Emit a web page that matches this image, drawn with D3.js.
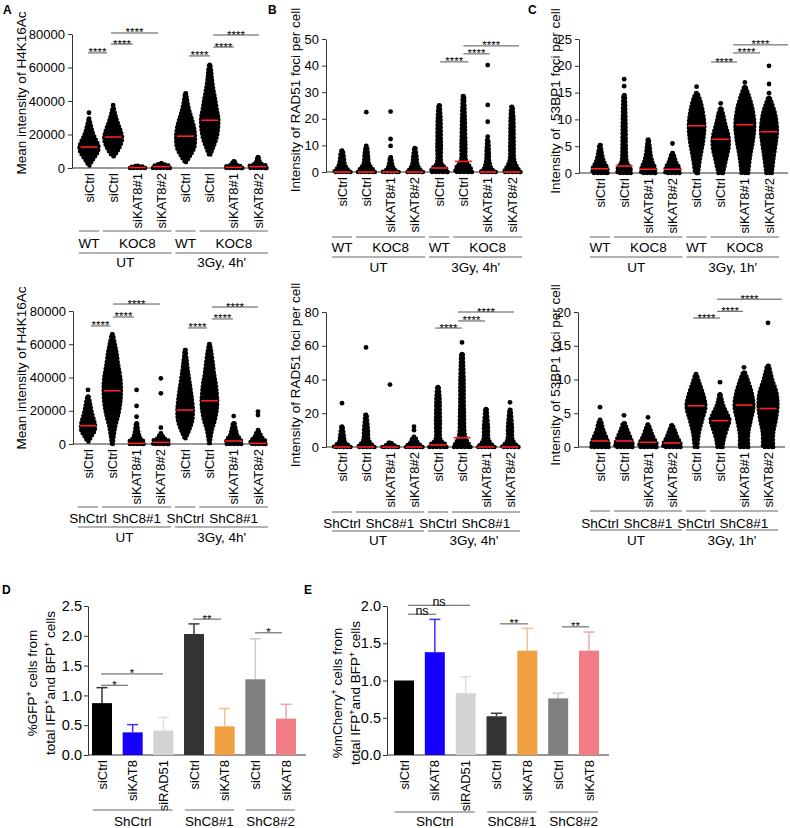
<!DOCTYPE html>
<html>
<head>
<meta charset="utf-8">
<script src="https://cdn.jsdelivr.net/npm/d3@7"></script>
<style>
  body { margin: 0; background: #fff; }
  svg text { font-family: "Liberation Sans", Arial, Helvetica, sans-serif; fill: #000; }
</style>
</head>
<body>
<svg id="fig" width="790" height="828"></svg>
<script>
// ---- data ----
// dot plots: each column is a list of [value, relative spread of the cloud]
const dotCats = ["siCtrl", "siCtrl", "siKAT8#1", "siKAT8#2", "siCtrl", "siCtrl", "siKAT8#1", "siKAT8#2"];
const topGroups = [["WT", 0, 0], ["KOC8", 1, 3], ["WT", 4, 4], ["KOC8", 5, 7]];
const bottomGroups = [["ShCtrl", 0, 0], ["ShC8#1", 1, 3], ["ShCtrl", 4, 4], ["ShC8#1", 5, 7]];
const cond4h = [["UT", 0, 3], ["3Gy, 4h'", 4, 7]];
const cond1h = [["UT", 0, 3], ["3Gy, 1h'", 4, 7]];

const aTopSpread = [
  [[1500,.05],[4000,.3],[7000,.65],[10000,.95],[13000,1],[16000,.8],[19000,.55],[22000,.35],[25000,.22],[27000,.13],[28500,.06]],
  [[7000,.08],[10000,.45],[14000,.8],[18000,.95],[22000,.8],[26000,.55],[30000,.32],[33000,.18],[35500,.08]],
  [[0,.82],[500,.82],[1000,.35],[1300,.1]],
  [[0,.9],[1000,.9],[2000,.45],[2800,.1]],
  [[3500,.05],[7000,.45],[12000,.9],[18000,1],[24000,.9],[30000,.62],[35000,.36],[40000,.18],[44500,.07]],
  [[8000,.08],[12000,.35],[18000,.72],[25000,.9],[30000,.9],[36000,.72],[42000,.55],[48000,.36],[54000,.22],[58000,.16],[61500,.07]],
  [[0,.9],[800,.9],[1800,.35],[3000,.18],[4000,.07]],
  [[0,.9],[1200,.9],[2500,.35],[4000,.18],[6500,.07]]
];
const aTopMedian = [12500, 18500, 300, 800, 19000, 28500, 400, 800];
const aTopOutliers = [[29500, 33000], [37500], [], [], [], [], [], []];
const aTopSig = [[-0.04,0.75,68700,"****"],[0.91,1.82,74000,"****"],[0.91,2.86,80600,"****"],
                 [4.14,5.01,66900,"****"],[5.14,6.0,72200,"****"],[5.14,7.04,79400,"****"]];

const bTopSpread = [
  [[0,.9],[1,.6],[3,.3],[5,.22],[7,.15],[8,.07]],
  [[0,.9],[1,.7],[3,.3],[6,.2],[8,.15],[9.8,.07]],
  [[0,.85],[1,.4],[3,.18],[5.5,.08]],
  [[0,.85],[1,.55],[3,.28],[6,.18],[9,.08]],
  [[0,.9],[1.5,.7],[3,.28],[10,.2],[20,.16],[25,.08]],
  [[0,.9],[2,.7],[4,.3],[10,.22],[20,.16],[28.5,.08]],
  [[0,.85],[1,.45],[4,.18],[8,.13],[12,.08]],
  [[0,.9],[1,.7],[4,.28],[10,.2],[20,.16],[24.5,.08]]
];
const bTopMedian = [0, 0, 0, 0, 1.5, 4, 0, 0];
const bTopOutliers = [[], [22.5], [9.8, 12.4, 22.7], [], [], [], [13.3, 18.9, 25.2, 40.2], []];
const bTopSig = [[4.04,5.21,41.4,"****"],[5.0,6.08,44.4,"****"],[5.0,7.29,47.4,"****"]];

const cTopSpread = [
  [[0,.8],[1,.75],[2,.45],[3,.28],[4,.17],[5.2,.08]],
  [[0,.7],[1,.65],[2,.3],[4,.2],[8,.17],[14.5,.1]],
  [[0,.75],[1,.7],[2,.45],[3.5,.25],[5,.15],[6.2,.07]],
  [[0,.75],[1,.7],[2,.4],[3.7,.1]],
  [[0,.15],[3,.4],[6,.7],[9,.82],[12,.6],[14,.3],[14.9,.1]],
  [[0,.25],[2,.5],[5,.85],[7,.8],[9,.5],[11,.25],[12,.08]],
  [[0,.35],[3,.55],[6,.85],[9,1],[12,.8],[14.5,.4],[16,.1]],
  [[0,.3],[3,.5],[6,.75],[8,.85],[11,.65],[13,.3],[14,.1]]
];
const cTopMedian = [0.8, 1.3, 0.7, 0.7, 8.8, 6.3, 9, 7.7];
const cTopOutliers = [[], [16.2, 17.5], [], [5.5], [16.1], [13], [16.9], [14.9, 16.6, 20]];
const cTopSig = [[4.6,5.68,20.7,"****"],[5.51,6.63,22.4,"****"],[5.51,7.79,23.9,"****"]];

const aBotSpread = [
  [[1400,.05],[5000,.4],[8000,.7],[11000,.75],[14000,.65],[18000,.45],[22000,.3],[26000,.17],[28500,.07]],
  [[0,.05],[10000,.3],[18000,.65],[25000,.85],[32000,.92],[40000,.85],[48000,.62],[55000,.45],[60000,.28],[66000,.07]],
  [[0,.75],[1500,.75],[3500,.4],[7000,.2],[12400,.08]],
  [[0,.8],[2000,.8],[3500,.35],[6400,.1]],
  [[3400,.05],[8000,.4],[14000,.75],[20000,.82],[28000,.7],[36000,.5],[44000,.3],[50000,.17],[56500,.06]],
  [[500,.05],[8000,.25],[15000,.6],[22000,.8],[26000,.82],[35000,.7],[42000,.5],[50000,.33],[56000,.18],[60000,.06]],
  [[0,.8],[2500,.75],[5000,.4],[8000,.25],[12400,.1]],
  [[0,.8],[2000,.75],[4000,.4],[6000,.25],[7400,.1]]
];
const aBotMedian = [11000, 32000, 400, 1000, 20400, 26000, 1800, 400];
const aBotOutliers = [[32500], [], [16400, 22900, 32500], [9800, 30500, 39500], [], [], [16800], [8400, 17400, 19500]];
const aBotSig = [[0.12,0.91,71000,"****"],[1.03,1.89,76400,"****"],[1.03,2.96,84200,"****"],
                 [4.12,4.9,69800,"****"],[5.1,5.97,75200,"****"],[5.1,7.0,82400,"****"]];

const bBotSpread = [
  [[0,.9],[1,.7],[3,.3],[6,.22],[12,.08]],
  [[0,.9],[1,.7],[4,.3],[10,.22],[19,.08]],
  [[0,.85],[1,.45],[2.5,.15]],
  [[0,.9],[1,.7],[3,.35],[6,.15]],
  [[0,.9],[2,.7],[4,.3],[15,.22],[30,.17],[35.5,.08]],
  [[0,.9],[2,.7],[6,.35],[20,.22],[40,.18],[55,.1]],
  [[0,.9],[1,.7],[4,.3],[12,.22],[22.5,.08]],
  [[0,.9],[1,.7],[4,.3],[12,.22],[22,.08]]
];
const bBotMedian = [0, 0, 0, 0, 1.2, 5.5, 0, 0];
const bBotOutliers = [[26], [59], [37], [10, 12], [], [62], [], [26.5]];
const bBotSig = [[3.88,5.0,70.5,"****"],[4.83,5.96,74.7,"****"],[4.83,7.17,80,"****"]];

const cBotSpread = [
  [[0,.9],[0.5,.9],[1.5,.65],[2.5,.35],[3.5,.18],[4,.08]],
  [[0,.9],[0.5,.9],[1.5,.65],[2.5,.35],[3.5,.12]],
  [[0,.9],[0.5,.9],[1.5,.55],[2.5,.28],[3.3,.08]],
  [[0,.9],[0.5,.9],[1.5,.55],[2.5,.28],[3.2,.08]],
  [[0,.15],[2,.3],[4,.65],[6,1],[8,.72],[9.5,.35],[10.8,.08]],
  [[0,.28],[1,.38],[3,.8],[4,1],[5,.72],[6,.38],[7,.18],[7.8,.08]],
  [[0,.45],[2,.45],[4,.72],[6,1],[8,.82],[10,.38],[11,.12]],
  [[0,.55],[2,.55],[4,.82],[6,1],[8,.9],[10,.45],[12,.12]]
];
const cBotMedian = [0.9, 0.9, 0.7, 0.6, 6.1, 3.9, 6.2, 5.7];
const cBotOutliers = [[5.9], [4.7], [4.4], [], [], [9.6], [11.8], [18.4]];
const cBotSig = [[3.88,5.0,19.1,"****"],[4.88,5.96,20.1,"****"],[4.88,7.58,21.9,"****"]];

// bar charts D and E
const barCats = ["siCtrl", "siKAT8", "siRAD51", "siCtrl", "siKAT8", "siCtrl", "siKAT8"];
const barGroups = [["ShCtrl", 0, 2], ["ShC8#1", 3, 4], ["ShC8#2", 5, 6]];
const dMeans = [0.87, 0.38, 0.41, 2.03, 0.48, 1.27, 0.61];
const dErrTop = [1.13, 0.51, 0.63, 2.20, 0.78, 1.95, 0.85];
const dSig = [[-0.03,0.85,1.17,"*"],[-0.03,1.99,1.36,"*"],[2.97,3.88,2.28,"**"],[4.99,5.87,2.05,"*"]];
const eMeans = [1.0, 1.38, 0.83, 0.52, 1.40, 0.76, 1.40];
const eErrTop = [1.0, 1.82, 1.05, 0.56, 1.70, 0.83, 1.65];
const eSig = [[0.13,1.04,1.89,"ns"],[0.13,2.14,2.01,"ns"],[3.11,4.02,1.76,"**"],[5.12,6.0,1.72,"**"]];

const barColors = ["#000000", "#1500ff", "#d4d4d4", "#333333", "#f0a042", "#7f7f7f", "#f27c85"];
const errColors = ["#333333", "#3a30ff", "#e0e0e0", "#3a3a3a", "#f6c08c", "#cccccc", "#f6a3ab"];

// ---- drawing ----
const svg = d3.select("#fig");
const MAXW = 9.5;     // half width of the widest part of a dot cloud (dots add ~2px)
const AX = "#333";

function yAxis(g, L, y, fmt) {
  const ax = g.append("g")
    .attr("transform", `translate(${L.axisX},0)`)
    .call(d3.axisLeft(y).tickValues(L.ticks).tickSize(4).tickPadding(L.pad).tickSizeOuter(0).tickFormat(fmt));
  ax.attr("font-family", null).attr("font-size", null);
  ax.select(".domain").attr("stroke", AX);
  ax.selectAll(".tick line").attr("stroke", AX);
  ax.selectAll(".tick text").attr("font-size", L.tickFont).attr("fill", "#000");
  g.append("line")
    .attr("x1", L.axisX).attr("x2", L.axisEnd).attr("y1", L.y0).attr("y2", L.y0)
    .attr("stroke", AX);
}

function catLabels(g, x, L, cats) {
  cats.forEach((c, i) => {
    g.append("text")
      .attr("transform", `translate(${x(i) + 4.5},${L.y0 + 5}) rotate(-90)`)
      .attr("text-anchor", "end").attr("font-size", 13).text(c);
  });
}

function groupRow(g, x, pad, rows, ly, ty) {
  rows.forEach(([lab, a, b]) => {
    const x1 = x(a) - pad, x2 = x(b) + pad;
    g.append("line").attr("x1", x1).attr("x2", x2).attr("y1", ly).attr("y2", ly)
      .attr("stroke", "#666").attr("stroke-width", 1);
    g.append("text").attr("x", (x1 + x2) / 2).attr("y", ty)
      .attr("text-anchor", "middle").attr("font-size", 13.5).text(lab);
  });
}

function sigBars(g, x, y, sig) {
  sig.forEach(([a, b, lvl, lab]) => {
    const yy = y(lvl);
    g.append("line").attr("x1", x(a)).attr("x2", x(b)).attr("y1", yy).attr("y2", yy)
      .attr("stroke", "#555").attr("stroke-width", 1);
    const ns = lab === "ns";
    g.append("text").attr("x", (x(a) + x(b)) / 2).attr("y", ns ? yy + 0.5 : yy + 3.5)
      .attr("text-anchor", "middle").attr("font-size", ns ? 12.5 : 11.5).text(lab);
  });
}

function swarmPanel(L, spread, medians, outliers, sig, groups, conds) {
  const g = svg.append("g");
  const y = d3.scaleLinear().domain([0, L.yMax]).range([L.y0, L.y1]);
  const x = d3.scaleLinear().domain([0, 7]).range([L.xFirst, L.xLast]);
  const step = x(1) - x(0);
  yAxis(g, L, y, d3.format("d"));

  const area = d3.area()
    .y(d => y(d[0]))
    .x0(d => -d[1] * MAXW)
    .x1(d => d[1] * MAXW)
    .curve(d3.curveCatmullRom);

  spread.forEach((prof, i) => {
    const c = g.append("g").attr("transform", `translate(${x(i)},0)`);
    // solid core of the cloud
    c.append("path").datum(prof).attr("d", area)
      .attr("fill", "#000").attr("stroke", "#000").attr("stroke-width", 1.2).attr("stroke-linejoin", "round");
    // dotted rim to give the edge the look of single points
    c.append("path").datum(prof).attr("d", area)
      .attr("fill", "none").attr("stroke", "#000").attr("stroke-width", 4.4)
      .attr("stroke-linecap", "round").attr("stroke-dasharray", "0 3.6");
    c.append("circle").attr("cy", y(prof[prof.length - 1][0])).attr("r", 2.4).attr("fill", "#000");
    c.selectAll("circle.out").data(outliers[i]).join("circle").attr("class", "out")
      .attr("cy", d => y(d)).attr("r", 2.4).attr("fill", "#000");
    c.append("line").attr("x1", -8.5).attr("x2", 8.5)
      .attr("y1", y(medians[i])).attr("y2", y(medians[i]))
      .attr("stroke", "#ff1f1f").attr("stroke-width", 1.6);
  });

  sigBars(g, x, y, sig);
  catLabels(g, x, L, dotCats);
  groupRow(g, x, step * 0.42, groups, L.g1y, L.t1y);
  groupRow(g, x, step * 0.42, conds, L.g2y, L.t2y);

  g.append("text")
    .attr("transform", `translate(${L.titleX + 4.7},${L.titleY}) rotate(-90)`)
    .attr("text-anchor", "middle").attr("font-size", 13.5)
    .style("white-space", "pre").text(L.title);
}

function titleLine(cx, cy, parts) {
  const t = svg.append("text")
    .attr("transform", `translate(${cx + 4.7},${cy}) rotate(-90)`)
    .attr("text-anchor", "middle").attr("font-size", 13.5);
  let up = false;
  parts.forEach(p => {
    if (p === "+") {
      t.append("tspan").attr("dy", -5).attr("font-size", 9).text("+");
      up = true;
    } else {
      t.append("tspan").attr("dy", up ? 5 : 0).text(p);
      up = false;
    }
  });
}

function barPanel(L, means, errTop, sig) {
  const g = svg.append("g");
  const y = d3.scaleLinear().domain([0, L.yMax]).range([L.y0, L.y1]);
  const x = d3.scaleLinear().domain([0, 6]).range([L.xFirst, L.xLast]);
  const step = x(1) - x(0);
  yAxis(g, L, y, d3.format(".1f"));

  means.forEach((m, i) => {
    if (errTop[i] > m) {
      g.append("line").attr("x1", x(i)).attr("x2", x(i)).attr("y1", y(m)).attr("y2", y(errTop[i]))
        .attr("stroke", errColors[i]).attr("stroke-width", 1.5);
      g.append("line").attr("x1", x(i) - 5.5).attr("x2", x(i) + 5.5)
        .attr("y1", y(errTop[i])).attr("y2", y(errTop[i]))
        .attr("stroke", errColors[i]).attr("stroke-width", 1.5);
    }
    g.append("rect")
      .attr("x", x(i) - L.barW / 2).attr("width", L.barW)
      .attr("y", y(m)).attr("height", y(0) - y(m))
      .attr("fill", barColors[i]);
  });

  sigBars(g, x, y, sig);
  catLabels(g, x, L, barCats);
  groupRow(g, x, step * 0.3, barGroups, L.g1y, L.t1y);
}

// ---- layouts ----
const dotTicksA = [0, 20000, 40000, 60000, 80000];

swarmPanel({axisX: 72, axisEnd: 265, y0: 168, y1: 34, yMax: 80000, ticks: dotTicksA, pad: 3, tickFont: 13,
  xFirst: 89, xLast: 258, g1y: 231, t1y: 248, g2y: 253, t2y: 267,
  titleX: 21, titleY: 93, title: "Mean intensity of H4K16Ac"},
  aTopSpread, aTopMedian, aTopOutliers, aTopSig, topGroups, cond4h);

swarmPanel({axisX: 326, axisEnd: 519, y0: 172, y1: 39, yMax: 50, ticks: [0, 10, 20, 30, 40, 50], pad: 3, tickFont: 13,
  xFirst: 342, xLast: 512, g1y: 237, t1y: 252, g2y: 257, t2y: 272,
  titleX: 295, titleY: 100, title: "Intensity of RAD51 foci per cell"},
  bTopSpread, bTopMedian, bTopOutliers, bTopSig, topGroups, cond4h);

swarmPanel({axisX: 579, axisEnd: 788, y0: 173, y1: 39, yMax: 25, ticks: [0, 5, 10, 15, 20, 25], pad: 3, tickFont: 13,
  xFirst: 600, xLast: 769, g1y: 237, t1y: 252, g2y: 257, t2y: 272,
  titleX: 555, titleY: 101, title: "Intensity of  53BP1 foci per cell"},
  cTopSpread, cTopMedian, cTopOutliers, cTopSig, topGroups, cond1h);

swarmPanel({axisX: 73, axisEnd: 265, y0: 444, y1: 311, yMax: 80000, ticks: dotTicksA, pad: 3, tickFont: 13,
  xFirst: 88, xLast: 258, g1y: 507, t1y: 523, g2y: 527, t2y: 542,
  titleX: 21, titleY: 368, title: "Mean intensity of H4K16Ac"},
  aBotSpread, aBotMedian, aBotOutliers, aBotSig, bottomGroups, cond4h);

swarmPanel({axisX: 326, axisEnd: 517, y0: 447, y1: 312, yMax: 80, ticks: [0, 20, 40, 60, 80], pad: 3, tickFont: 13,
  xFirst: 342, xLast: 510, g1y: 512, t1y: 528, g2y: 531, t2y: 545,
  titleX: 295, titleY: 375, title: "Intensity of RAD51 foci per cell"},
  bBotSpread, bBotMedian, bBotOutliers, bBotSig, bottomGroups, cond4h);

swarmPanel({axisX: 578, axisEnd: 785, y0: 447, y1: 312, yMax: 20, ticks: [0, 5, 10, 15, 20], pad: 3, tickFont: 13,
  xFirst: 600, xLast: 768, g1y: 511, t1y: 528, g2y: 530, t2y: 545,
  titleX: 555, titleY: 375, title: "Intensity of 53BP1 foci per cell"},
  cBotSpread, cBotMedian, cBotOutliers, cBotSig, bottomGroups, cond1h);

barPanel({axisX: 88, axisEnd: 306, y0: 755, y1: 606, yMax: 2.5, ticks: [0, 0.5, 1, 1.5, 2, 2.5], pad: 2, tickFont: 14.5,
  xFirst: 102, xLast: 286, barW: 20, g1y: 810, t1y: 826}, dMeans, dErrTop, dSig);

barPanel({axisX: 387, axisEnd: 609, y0: 755, y1: 606, yMax: 2.0, ticks: [0, 0.5, 1, 1.5, 2], pad: 2, tickFont: 14.5,
  xFirst: 404, xLast: 589, barW: 20, g1y: 812, t1y: 826}, eMeans, eErrTop, eSig);

titleLine(32, 683, ["%GFP", "+", " cells from"]);
titleLine(50, 683, ["total IFP", "+", "and BFP", "+", " cells"]);
titleLine(337, 693, ["%mCherry", "+", " cells from"]);
titleLine(355, 693, ["total IFP", "+", "and BFP", "+", " cells"]);

// panel letters
[["A", 3, 14], ["B", 268, 14], ["C", 528, 14], ["D", 2, 594], ["E", 304, 594]].forEach(([l, x, y]) => {
  svg.append("text").attr("x", x).attr("y", y).attr("font-size", 12).attr("font-weight", "bold").text(l);
});
</script>
</body>
</html>
